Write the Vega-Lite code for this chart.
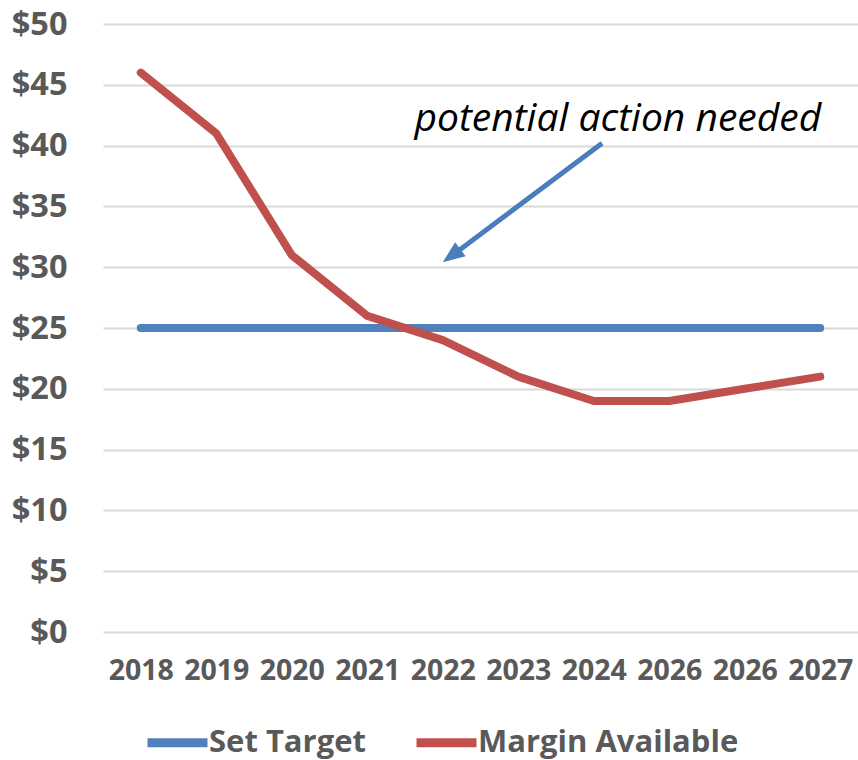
{
  "$schema": "https://vega.github.io/schema/vega-lite/v6.json",
  "autosize": {"type": "none"},
  "width": 755,
  "height": 608,
  "padding": {"left": 103, "top": 24, "right": 0, "bottom": 128},
  "background": "white",
  "config": {
    "font": "Open Sans",
    "view": {"stroke": null}
  },
  "datasets": {
    "series": [
      {"idx": 0, "year": "2018", "series": "Set Target", "value": 25},
      {"idx": 1, "year": "2019", "series": "Set Target", "value": 25},
      {"idx": 2, "year": "2020", "series": "Set Target", "value": 25},
      {"idx": 3, "year": "2021", "series": "Set Target", "value": 25},
      {"idx": 4, "year": "2022", "series": "Set Target", "value": 25},
      {"idx": 5, "year": "2023", "series": "Set Target", "value": 25},
      {"idx": 6, "year": "2024", "series": "Set Target", "value": 25},
      {"idx": 7, "year": "2026", "series": "Set Target", "value": 25},
      {"idx": 8, "year": "2026", "series": "Set Target", "value": 25},
      {"idx": 9, "year": "2027", "series": "Set Target", "value": 25},
      {"idx": 0, "year": "2018", "series": "Margin Available", "value": 46},
      {"idx": 1, "year": "2019", "series": "Margin Available", "value": 41},
      {"idx": 2, "year": "2020", "series": "Margin Available", "value": 31},
      {"idx": 3, "year": "2021", "series": "Margin Available", "value": 26},
      {"idx": 4, "year": "2022", "series": "Margin Available", "value": 24},
      {"idx": 5, "year": "2023", "series": "Margin Available", "value": 21},
      {"idx": 6, "year": "2024", "series": "Margin Available", "value": 19},
      {"idx": 7, "year": "2026", "series": "Margin Available", "value": 19},
      {"idx": 8, "year": "2026", "series": "Margin Available", "value": 20},
      {"idx": 9, "year": "2027", "series": "Margin Available", "value": 21}
    ],
    "callout": [
      {"label": "potential action needed", "tx": 6.32, "ty": 41.2, "x0": 6.11, "y0": 40.2, "x1": 4.13, "y1": 30.99, "hx": 4.0, "hy": 30.4}
    ]
  },
  "layer": [
    {
      "data": {"name": "series"},
      "transform": [{"filter": "datum.series === 'Set Target'"}],
      "mark": {"type": "line", "strokeWidth": 8, "strokeCap": "round", "strokeJoin": "round"},
      "encoding": {
        "x": {
          "field": "idx",
          "type": "quantitative",
          "scale": {"domain": [-0.5, 9.5], "nice": false, "zero": false},
          "axis": {
            "title": null,
            "grid": false,
            "domain": false,
            "ticks": false,
            "values": [0, 1, 2, 3, 4, 5, 6, 7, 8, 9],
            "labelExpr": "['2018','2019','2020','2021','2022','2023','2024','2026','2026','2027'][datum.value]",
            "labelFont": "Open Sans",
            "labelFontSize": 28.5,
            "labelFontWeight": "bold",
            "labelColor": "#595959",
            "labelPadding": 24,
            "labelFlush": false
          }
        },
        "y": {
          "field": "value",
          "type": "quantitative",
          "scale": {"domain": [0, 50], "nice": false},
          "axis": {
            "title": null,
            "values": [0, 5, 10, 15, 20, 25, 30, 35, 40, 45, 50],
            "labelExpr": "'$' + datum.value",
            "grid": true,
            "gridColor": "#d9d9d9",
            "gridWidth": 2,
            "domain": false,
            "ticks": false,
            "labelFont": "Open Sans",
            "labelFontSize": 32.5,
            "labelFontWeight": "bold",
            "labelColor": "#595959",
            "labelPadding": 36
          }
        },
        "color": {
          "field": "series",
          "type": "nominal",
          "scale": {"domain": ["Set Target", "Margin Available"], "range": ["#4f81bd", "#c0504d"]},
          "legend": {
            "title": null,
            "orient": "none",
            "direction": "horizontal",
            "legendX": 40,
            "legendY": 684,
            "symbolType": "stroke",
            "symbolSize": 3600,
            "symbolStrokeWidth": 9,
            "labelFont": "Open Sans",
            "labelFontSize": 31,
            "labelFontWeight": "bold",
            "labelColor": "#595959",
            "labelOffset": -3,
            "columnPadding": 32,
            "labelLimit": 400
          }
        }
      }
    },
    {
      "data": {"name": "series"},
      "transform": [{"filter": "datum.series === 'Margin Available'"}],
      "mark": {"type": "line", "strokeWidth": 8, "strokeCap": "round", "strokeJoin": "round"},
      "encoding": {
        "x": {"field": "idx", "type": "quantitative"},
        "y": {"field": "value", "type": "quantitative"},
        "color": {"field": "series", "type": "nominal"}
      }
    },
    {
      "data": {"name": "callout"},
      "mark": {"type": "rule", "color": "#4a7ebb", "strokeWidth": 5},
      "encoding": {
        "x": {"field": "x0", "type": "quantitative"},
        "y": {"field": "y0", "type": "quantitative"},
        "x2": {"field": "x1"},
        "y2": {"field": "y1"}
      }
    },
    {
      "data": {"name": "callout"},
      "mark": {
        "type": "point",
        "shape": "M0,0L0.8,2L-0.8,2Z",
        "size": 484,
        "angle": 233.3,
        "filled": true,
        "color": "#4a7ebb",
        "opacity": 1
      },
      "encoding": {
        "x": {"field": "hx", "type": "quantitative"},
        "y": {"field": "hy", "type": "quantitative"}
      }
    },
    {
      "data": {"name": "callout"},
      "mark": {
        "type": "text",
        "font": "Open Sans",
        "fontSize": 39,
        "fontStyle": "italic",
        "color": "#000000",
        "align": "center",
        "baseline": "alphabetic"
      },
      "encoding": {
        "x": {"field": "tx", "type": "quantitative"},
        "y": {"field": "ty", "type": "quantitative"},
        "text": {"field": "label"}
      }
    }
  ]
}
